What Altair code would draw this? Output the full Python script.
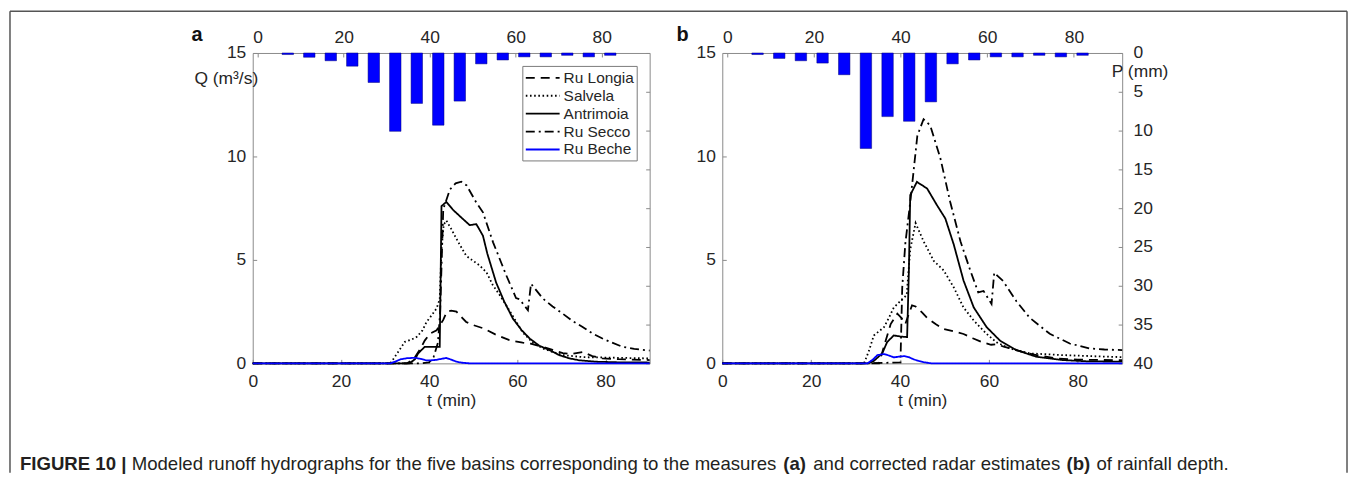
import altair as alt
import pandas as pd

FONT = "Liberation Sans"
TXT = "#262626"
AXC = "#8a8a8a"
BLUE = "#0000ff"

# ---------------- data ----------------
SERIES = ["Ru Longia", "Salvela", "Antrimoia", "Ru Secco", "Ru Beche"]
COLORS = ["#000000", "#000000", "#000000", "#000000", BLUE]
DASHES = [[9, 6], [1.6, 2.6], [1, 0], [9, 4, 2, 4], [1, 0]]

BAR_T = [7, 12, 17, 22, 27, 32, 37, 42, 47, 52, 57, 62, 67, 72, 77, 82]
P_A = [0.2, 0.55, 1.0, 1.7, 3.8, 10.1, 6.5, 9.3, 6.2, 1.4, 0.9, 0.5, 0.5, 0.3, 0.5, 0.3]
P_B = [0.2, 0.7, 1.0, 1.3, 2.8, 12.3, 8.2, 8.8, 6.3, 1.4, 0.9, 0.5, 0.5, 0.3, 0.5, 0.3]

# panel a
A_LONGIA_T = [0, 35, 36.5, 38, 39, 40.2, 41.7, 43.2, 44, 45, 46.2, 47.5, 48.4, 50, 52.2, 55, 58.2, 61.2, 63, 65.8, 68, 70.3, 72, 74.8, 77, 79.3, 83, 90]
A_LONGIA_Q = [0, 0, 0.2, 0.7, 1.1, 1.44, 1.6, 2.1, 2.5, 2.55, 2.5, 2.2, 2.0, 1.85, 1.7, 1.4, 1.12, 1.0, 0.95, 0.8, 0.65, 0.5, 0.45, 0.55, 0.35, 0.24, 0.2, 0.16]
A_SALVELA_T = [0, 31.2, 32.5, 34.5, 36, 37.2, 38.5, 39.4, 40.5, 41.7, 42.4, 42.8, 43.3, 43.9, 45, 46.5, 48.4, 50, 51.4, 53, 54.4, 56, 57.5, 59.5, 61.2, 63.5, 65.8, 68, 70.3, 75, 80, 85, 90]
A_SALVELA_Q = [0, 0, 0.4, 1.04, 1.15, 1.28, 1.6, 2.0, 2.3, 2.66, 3.1, 5.5, 6.7, 6.9, 6.5, 5.9, 5.2, 4.95, 4.74, 4.4, 3.8, 3.3, 2.8, 2.1, 1.5, 1.0, 0.72, 0.55, 0.4, 0.3, 0.28, 0.26, 0.24]
A_ANTRIMOIA_T = [0, 35.5, 36.8, 37.5, 39, 42.4, 42.6, 42.8, 43.9, 45.5, 47.7, 49.2, 50.7, 52.2, 53.2, 55.2, 57, 59, 61, 62.8, 65, 67.3, 69.5, 71.8, 74, 77.8, 83, 90]
A_ANTRIMOIA_Q = [0, 0, 0.2, 0.48, 0.8, 0.8, 4.0, 7.6, 7.8, 7.4, 6.97, 6.68, 6.73, 6.17, 5.3, 3.9, 3.0, 2.16, 1.6, 1.2, 0.85, 0.64, 0.4, 0.24, 0.15, 0.08, 0.05, 0.04]
A_SECCO_T = [0, 38, 40, 41, 42, 42.5, 43.2, 44.7, 46, 47.3, 48.5, 50.7, 52.2, 54.5, 57.5, 59.7, 60.5, 62.4, 63.1, 65.8, 68, 70.3, 72.5, 74.8, 77, 79.3, 81.5, 83.8, 86.5, 90]
A_SECCO_Q = [0, 0, 0.05, 0.3, 1.0, 2.5, 7.45, 8.4, 8.7, 8.78, 8.6, 7.77, 7.3, 5.85, 4.25, 3.16, 3.1, 2.57, 3.85, 3.13, 2.75, 2.4, 2.05, 1.76, 1.45, 1.2, 1.0, 0.8, 0.7, 0.62]
A_BECHE_T = [0, 31.2, 32.5, 33.6, 35, 36.8, 38, 39.4, 40.5, 41.7, 42.8, 43.9, 45, 46.2, 47.5, 49.2, 90]
A_BECHE_Q = [0, 0, 0.1, 0.2, 0.25, 0.27, 0.22, 0.14, 0.15, 0.17, 0.22, 0.26, 0.18, 0.08, 0.03, 0, 0]

# panel b
B_LONGIA_T = [0, 35.3, 36.5, 37.9, 39.4, 40.3, 41.2, 42, 42.7, 43.5, 45, 46.1, 48, 49.8, 52, 54.3, 56.5, 58.8, 60.5, 61.7, 63.5, 66.2, 68.5, 70.7, 75.1, 80, 90]
B_LONGIA_Q = [0, 0, 0.9, 1.9, 2.4, 2.2, 1.9, 2.4, 2.8, 2.75, 2.45, 2.2, 1.9, 1.66, 1.55, 1.42, 1.2, 1.0, 0.9, 0.92, 0.8, 0.64, 0.5, 0.4, 0.24, 0.18, 0.15]
B_SALVELA_T = [0, 31.9, 33, 34.1, 36.4, 37.5, 38.6, 40.5, 41.5, 42.3, 43.5, 45.3, 47.6, 49.8, 52.1, 54.3, 56.6, 59.5, 61.7, 64.7, 69.2, 76.6, 83, 90]
B_SALVELA_Q = [0, 0, 0.6, 1.35, 1.75, 2.2, 2.7, 3.1, 3.3, 5.5, 6.78, 5.9, 4.95, 4.5, 3.67, 2.7, 2.07, 1.42, 1.02, 0.72, 0.48, 0.4, 0.35, 0.3]
B_ANTRIMOIA_T = [0, 32.7, 34, 36, 37.1, 38.6, 40, 41.6, 42, 42.3, 43.8, 46.1, 48.3, 50.2, 52.1, 54.3, 56.6, 59.5, 62.5, 66.2, 70.7, 76.6, 82, 90]
B_ANTRIMOIA_Q = [0, 0, 0.1, 0.48, 1.03, 1.35, 1.3, 1.27, 4.5, 8.13, 8.77, 8.45, 7.65, 7.0, 5.74, 4.0, 2.7, 1.75, 1.1, 0.64, 0.32, 0.16, 0.1, 0.08]
B_SECCO_T = [0, 33, 40.1, 40.5, 41.2, 42.4, 43.9, 45.3, 46.8, 49.1, 51.3, 53.6, 55.8, 57.6, 58.8, 60.6, 61.2, 63.2, 66.2, 69.2, 73.7, 78.2, 82.6, 86, 90]
B_SECCO_Q = [0, 0, 0.05, 3.67, 5.8, 7.97, 11.0, 11.8, 11.5, 9.9, 7.8, 5.9, 4.5, 3.43, 3.5, 2.87, 4.38, 3.98, 3.0, 2.2, 1.43, 0.96, 0.72, 0.67, 0.64]
B_BECHE_T = [0, 32.7, 34, 34.9, 36.4, 37.5, 38.6, 40, 40.9, 42, 43.1, 44.2, 45.3, 47, 90]
B_BECHE_Q = [0, 0, 0.2, 0.4, 0.45, 0.38, 0.29, 0.33, 0.35, 0.3, 0.19, 0.12, 0.06, 0, 0]

X_TICKS = [0, 20, 40, 60, 80]
Q_TICKS = [0, 5, 10, 15]
P_TICKS = [0, 5, 10, 15, 20, 25, 30, 35, 40]

CAP_SIZE = 18.7
CAPTION = [
    ("FIGURE 10 |", "bold", -234),
    ("Modeled runoff hydrographs for the five basins corresponding to the measures", "normal", -121.7),
    ("(a)", "bold", 533.3),
    ("and corrected radar estimates", "normal", 563.4),
    ("(b)", "bold", 818.0),
    ("of rainfall depth.", "normal", 848.1),
]

AX = dict(grid=False, domain=False, tickSize=4, offset=-4, tickColor=AXC, tickWidth=1,
          labelColor=TXT, labelFont=FONT, labelFontSize=17.5)


def series_df(parts):
    rows = []
    for name, ts, qs in parts:
        for t, q in zip(ts, qs):
            rows.append({"series": name, "t": t, "q": q})
    return pd.DataFrame(rows)


def make_panel(P, parts, letter, first, width):
    xscale = alt.Scale(domain=[0, 90], nice=False, zero=False)
    bars = alt.Chart(pd.DataFrame({"t": BAR_T, "p": P})).mark_bar(
        orient="vertical", size=11.5, color=BLUE, stroke="#00007a", strokeWidth=0.5
    ).encode(
        x=alt.X("t:Q", scale=xscale,
                axis=alt.Axis(orient="top", values=X_TICKS, labelFlush=False, labelPadding=7,
                              title=None, **AX)),
        y=alt.Y("p:Q", scale=alt.Scale(domain=[0, 40], reverse=True, nice=False, zero=True),
                axis=alt.Axis(orient="right", values=P_TICKS, labels=not first, labelPadding=11,
                              title=None if first else "P (mm)", titleAngle=0, titleAlign="left",
                              titleBaseline="middle", titleX=-7, titleY=19, titleFont=FONT,
                              titleFontSize=17.5, titleFontWeight="normal", titleColor=TXT, **AX)),
    )
    if first:
        leg = alt.Legend(orient="none", legendX=271, legendY=13, title=None, padding=2.5,
                         strokeColor="#7a7a7a", fillColor="white", labelFont=FONT,
                         labelFontSize=15.5, labelColor=TXT, symbolType="M-1,0H3", symbolSize=289,
                         symbolStrokeWidth=1.8, labelOffset=20, rowPadding=0)
    else:
        leg = None
    lines = alt.Chart(series_df(parts)).mark_line(strokeWidth=1.8).encode(
        x=alt.X("t:Q", scale=xscale,
                axis=alt.Axis(orient="bottom", values=X_TICKS, labelFlush=False, labelPadding=9,
                              title="t (min)", titleY=41, titleBaseline="middle", titleFont=FONT,
                              titleFontSize=17.5, titleFontWeight="normal", titleColor=TXT, **AX)),
        y=alt.Y("q:Q", scale=alt.Scale(domain=[0, 15], nice=False),
                axis=alt.Axis(orient="left", values=Q_TICKS, labelPadding=7,
                              title="Q (m³/s)" if first else None, titleAngle=0, titleAlign="right",
                              titleBaseline="middle", titleX=1, titleY=26, titleFont=FONT,
                              titleFontSize=17.5, titleFontWeight="normal", titleColor=TXT, **AX)),
        color=alt.Color("series:N", scale=alt.Scale(domain=SERIES, range=COLORS), legend=leg),
        strokeDash=alt.StrokeDash("series:N", scale=alt.Scale(domain=SERIES, range=DASHES), legend=leg),
    )
    one = pd.DataFrame({"k": [0]})
    lab = alt.Chart(one).mark_text(text=letter, font=FONT, fontSize=20, fontWeight="bold",
                                   color="#111111", align="center", baseline="middle").encode(
        x=alt.value(-56 if first else -40), y=alt.value(-18))
    layers = [bars, lines, lab]
    if first:
        frame_c = "#555555"
        top = alt.Chart(one).mark_rule(color=frame_c, strokeWidth=1.5).encode(
            x=alt.value(-244), x2=alt.value(1100), y=alt.value(-42))
        left = alt.Chart(one).mark_rule(color=frame_c, strokeWidth=1.5).encode(
            x=alt.value(-244), y=alt.value(-42), y2=alt.value(422))
        right = alt.Chart(one).mark_rule(color=frame_c, strokeWidth=1.5).encode(
            x=alt.value(1100), y=alt.value(-42), y2=alt.value(422))
        layers += [top, left, right]
        for txt, wt, xpos in CAPTION:
            layers.append(alt.Chart(one).mark_text(text=txt, font=FONT, fontSize=CAP_SIZE, fontWeight=wt,
                                                   color="#231f20", align="left", baseline="middle").encode(
                x=alt.value(xpos), y=alt.value(413)))
    return alt.layer(*layers).resolve_scale(x="independent", y="independent").properties(
        width=width, height=312)


panel_a = make_panel(P_A, [
    ("Ru Longia", A_LONGIA_T, A_LONGIA_Q),
    ("Salvela", A_SALVELA_T, A_SALVELA_Q),
    ("Antrimoia", A_ANTRIMOIA_T, A_ANTRIMOIA_Q),
    ("Ru Secco", A_SECCO_T, A_SECCO_Q),
    ("Ru Beche", A_BECHE_T, A_BECHE_Q),
], "a", True, 399)

panel_b = make_panel(P_B, [
    ("Ru Longia", B_LONGIA_T, B_LONGIA_Q),
    ("Salvela", B_SALVELA_T, B_SALVELA_Q),
    ("Antrimoia", B_ANTRIMOIA_T, B_ANTRIMOIA_Q),
    ("Ru Secco", B_SECCO_T, B_SECCO_Q),
    ("Ru Beche", B_BECHE_T, B_BECHE_Q),
], "b", False, 402)

chart = alt.hconcat(panel_a, panel_b, spacing=73, bounds="flush").resolve_scale(
    color="independent", strokeDash="independent"
).properties(padding=0).configure_view(stroke=AXC, strokeWidth=1)

chart.save("out.html", embed_options={"renderer": "svg", "actions": False})
